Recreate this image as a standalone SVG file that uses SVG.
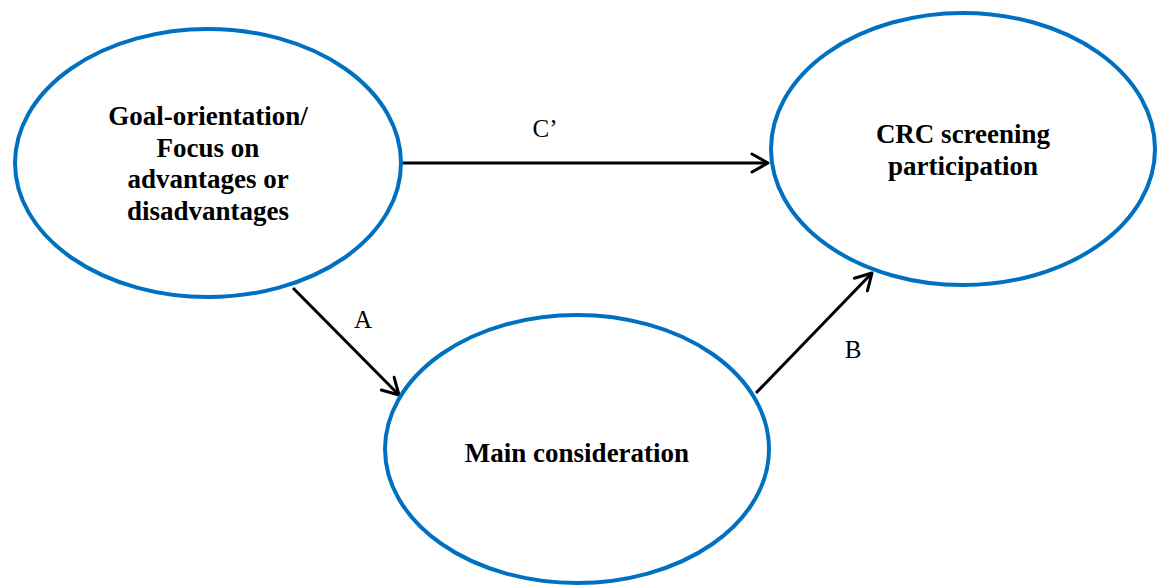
<svg xmlns="http://www.w3.org/2000/svg" width="1165" height="586" viewBox="0 0 1165 586">
<defs>
<style>
.node{fill:#fff;stroke:#0070C0;stroke-width:4}
.nt{font-family:"Liberation Serif","Times New Roman",serif;font-weight:bold;font-size:27px;fill:#000;text-anchor:middle}
.lbl{font-family:"Liberation Serif","Times New Roman",serif;font-size:25px;fill:#000;text-anchor:middle}
.edge{stroke:#000;stroke-width:3;fill:none}
</style>
<marker id="arr" viewBox="-20 -12 24 24" markerUnits="userSpaceOnUse" markerWidth="24" markerHeight="24" refX="0" refY="0" orient="auto">
<path d="M-16,-9 L0,0 L-16,9" fill="none" stroke="#000" stroke-width="3" stroke-linejoin="round" stroke-linecap="round"/>
</marker>
</defs>
<rect width="1165" height="586" fill="#fff"/>
<g id="edges">
<line class="edge" x1="402" y1="163" x2="768" y2="163" marker-end="url(#arr)"/>
<line class="edge" x1="293" y1="288" x2="399" y2="395" marker-end="url(#arr)"/>
<line class="edge" x1="756" y1="393" x2="872" y2="273" marker-end="url(#arr)"/>
<text class="lbl" x="545" y="137">C’</text>
<text class="lbl" x="363" y="328">A</text>
<text class="lbl" x="853" y="358">B</text>
</g>
<g id="goal">
<ellipse class="node" cx="208" cy="163" rx="193" ry="134"/>
<text class="nt" x="208" y="125">Goal-orientation/</text>
<text class="nt" x="208" y="157">Focus on</text>
<text class="nt" x="208" y="188">advantages or</text>
<text class="nt" x="208" y="220">disadvantages</text>
</g>
<g id="crc">
<ellipse class="node" cx="963" cy="149" rx="192" ry="136"/>
<text class="nt" x="963" y="143">CRC screening</text>
<text class="nt" x="963" y="175">participation</text>
</g>
<g id="main">
<ellipse class="node" cx="577" cy="449" rx="192" ry="134"/>
<text class="nt" x="577" y="462">Main consideration</text>
</g>
</svg>
